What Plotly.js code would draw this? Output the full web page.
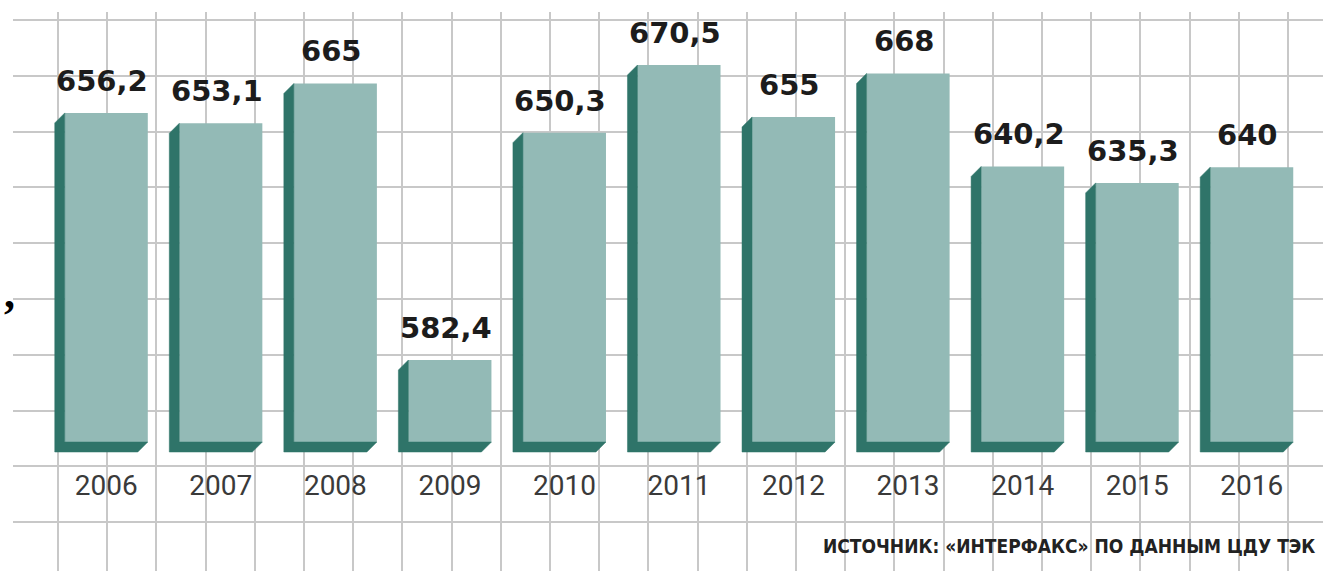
<!DOCTYPE html>
<html>
<head>
<meta charset="utf-8">
<script src="https://cdn.plot.ly/plotly-3.0.1.min.js"></script>
<style>html,body{margin:0;padding:0;background:#fff;}#chart{width:1323px;height:571px;}</style>
</head>
<body>
<div id="chart"></div>
<script>
// ---- data ----
const years = ['2006','2007','2008','2009','2010','2011','2012','2013','2014','2015','2016'];
const values = [656.2, 653.1, 665, 582.4, 650.3, 670.5, 655, 668, 640.2, 635.3, 640];
const valueLabels = ['656,2','653,1','665','582,4','650,3','670,5','655','668','640,2','635,3','640'];
const sourceText = 'ИСТОЧНИК: «ИНТЕРФАКС» ПО ДАННЫМ ЦДУ ТЭК';

// ---- geometry / style ----
const W = 1323, H = 571;
const PX = x => x / W;
const PY = y => 1 - y / H;
const idx = years.map((_, i) => i);
const X_RANGE = [-0.5, 10.5];
const Y_RANGE = [519.38, 686.34];
const BASE = 557.9;
const BAR_W = 0.725;
const plotLeft = 49, plotRight = 1309, plotTop = 12, plotBottom = 571;
const ux = (plotRight - plotLeft) / (X_RANGE[1] - X_RANGE[0]);
const uy = (plotBottom - plotTop) / (Y_RANGE[1] - Y_RANGE[0]);
const DX = 10 / ux, DY = 10 / uy;

const FRONT = '#93bab6';
const SIDE = '#2f7469';

// side (extrusion) polygons, derived from values
const sx = [], sy = [];
values.forEach((v, i) => {
  const xl = i - BAR_W / 2, xr = i + BAR_W / 2;
  sx.push(xl, xl - DX, xl - DX, xr - DX, xr, xl, xl, null);
  sy.push(v, v - DY, BASE - DY, BASE - DY, BASE, BASE, v, null);
});

const traces = [
  { type: 'scatter', x: [], y: [], xaxis: 'x', yaxis: 'y', hoverinfo: 'skip', showlegend: false },
  { type: 'scatter', x: sx, y: sy, xaxis: 'x2', yaxis: 'y2', mode: 'lines', fill: 'toself',
    fillcolor: SIDE, line: { width: 0.5, color: SIDE }, hoverinfo: 'skip', showlegend: false, connectgaps: false },
  { type: 'bar', x: idx, y: values.map(v => v - BASE), base: BASE, width: BAR_W, xaxis: 'x2', yaxis: 'y2',
    marker: { color: FRONT, line: { width: 0 } }, hoverinfo: 'skip', showlegend: false }
];

const annotations = values.map((v, i) => ({
  x: i, y: v, xref: 'x2', yref: 'y2', text: valueLabels[i], showarrow: false,
  xanchor: 'center', yanchor: 'bottom', xshift: -4, yshift: 13,
  font: { family: 'DejaVu Sans', size: 29, color: '#1c1c1c', weight: 'bold' }
}));
annotations.push({
  x: PX(1317), y: PY(546), xref: 'paper', yref: 'paper', text: sourceText, showarrow: false,
  xanchor: 'right', yanchor: 'middle',
  font: { family: 'DejaVu Sans Condensed', size: 19, color: '#222', weight: 'bold' }
});
annotations.push({
  x: PX(9), y: PY(267), xref: 'paper', yref: 'paper', text: ',', showarrow: false,
  xanchor: 'center', yanchor: 'top',
  font: { family: 'Liberation Serif', size: 44, color: '#000', weight: 'bold' }
});

const layout = {
  width: W, height: H,
  margin: { l: 0, r: 0, t: 0, b: 0, pad: 0 },
  paper_bgcolor: '#ffffff', plot_bgcolor: 'rgba(0,0,0,0)',
  showlegend: false, hovermode: false, barmode: 'overlay',
  xaxis: { domain: [PX(13), 1], range: [13, 1323], tick0: 58, dtick: 49.2, showgrid: true,
           gridcolor: '#c8c8c8', gridwidth: 2, zeroline: false, showline: false,
           showticklabels: false, ticks: '', fixedrange: true },
  yaxis: { domain: [0, PY(12)], range: [571, 12], tick0: 20, dtick: 55.8, showgrid: true,
           gridcolor: '#c8c8c8', gridwidth: 2, zeroline: false, showline: false,
           showticklabels: false, ticks: '', fixedrange: true },
  xaxis2: { domain: [PX(plotLeft), PX(plotRight)], range: X_RANGE, anchor: 'free', position: PY(466),
            tickmode: 'array', tickvals: idx, ticktext: years, showgrid: false, zeroline: false,
            showline: false, ticks: '', tickfont: { family: 'Roboto', size: 28, color: '#3a3a3a' },
            fixedrange: true },
  yaxis2: { domain: [0, PY(12)], range: Y_RANGE, anchor: 'x2', showgrid: false, zeroline: false,
            showline: false, showticklabels: false, ticks: '', fixedrange: true },
  annotations: annotations
};

Plotly.newPlot('chart', traces, layout, { displayModeBar: false, staticPlot: true });
</script>
</body>
</html>
